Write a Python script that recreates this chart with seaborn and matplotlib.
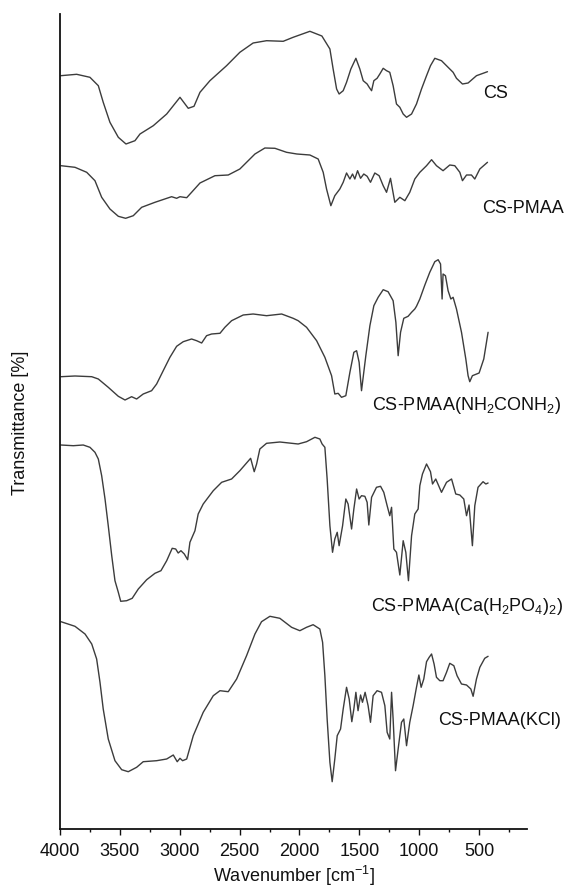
import matplotlib
matplotlib.use("Agg")
import matplotlib.pyplot as plt
from matplotlib.ticker import MultipleLocator
import seaborn as sns

# ---------------- data (wavenumber in cm^-1, transmittance in stacked arbitrary units) -------------
cs_wn = [3994, 3861, 3750, 3680, 3639, 3583, 3513, 3449, 3374, 3332, 3221, 3109, 2998, 2929, 2881,
         2831, 2748, 2609, 2498, 2387, 2275, 2136, 2053, 1913, 1813, 1746, 1719, 1690, 1669, 1635,
         1607, 1571, 1529, 1496, 1468, 1435, 1418, 1398, 1379, 1352, 1329, 1301, 1273, 1246, 1218,
         1190, 1162, 1134, 1106, 1064, 1023, 981, 939, 906, 870, 814, 759, 717, 689, 639, 592, 522, 430]
cs_t = [753.3, 754.7, 751.7, 743.3, 726.7, 706.7, 691.7, 685, 688.3, 695, 703.3, 715, 731.7, 720.7, 722.7,
        736.7, 748.3, 763.3, 776.7, 786, 788.3, 787.7, 791.7, 797.7, 793, 780, 760, 740, 735, 738.3,
        746.7, 760, 770.7, 760, 748.3, 745, 741.7, 738.3, 748.3, 750.7, 755, 760.7, 758.3, 756.7, 743.3,
        725, 721.7, 715, 711.7, 715, 725, 740, 753.3, 763.3, 770.7, 768.3, 761.7, 756.7, 750.7, 745, 746, 753.3, 757.3]

pmaa_wn = [3992, 3875, 3777, 3708, 3652, 3583, 3513, 3452, 3388, 3318, 3207, 3068, 3026, 2998, 2942,
           2901, 2831, 2706, 2595, 2498, 2372, 2289, 2205, 2108, 2022, 1913, 1844, 1802, 1774, 1738,
           1705, 1663, 1635, 1607, 1579, 1557, 1538, 1515, 1490, 1463, 1435, 1407, 1371, 1335, 1301,
           1273, 1240, 1204, 1162, 1120, 1079, 1037, 995, 939, 897, 856, 801, 745, 703, 661, 639, 605,
           564, 536, 494, 430]
pmaa_t = [663.3, 661.7, 656.7, 648.3, 631.7, 620, 612.7, 610.7, 613.3, 621.7, 626.7, 632.3, 630.7, 632.3, 631.3,
          636.7, 646, 653.3, 654, 660, 675, 681, 680.7, 676.7, 675, 674, 670, 656.7, 640, 623.3,
          633.3, 640, 646.7, 656, 650, 655, 650, 658.3, 650.7, 655, 652.7, 646.7, 656, 653.3, 643.3,
          636.7, 650.7, 626.7, 631.7, 628.3, 636.7, 650, 656.7, 663.3, 669.3, 663.3, 658.3, 664, 663.3, 656.7, 648.3, 654,
          654, 650, 660, 666.7]

urea_wn = [3992, 3875, 3735, 3680, 3597, 3513, 3457, 3402, 3360, 3305, 3235, 3193, 3138, 3082, 3026,
           2971, 2901, 2859, 2817, 2776, 2734, 2664, 2623, 2567, 2470, 2387, 2275, 2149, 2053, 2011,
           1941, 1857, 1788, 1732, 1705, 1677, 1649, 1613, 1579, 1546, 1523, 1502, 1482, 1446, 1412,
           1379, 1343, 1301, 1260, 1218, 1195, 1176, 1156, 1129, 1093, 1064, 1037, 1023, 995, 953,
           912, 870, 842, 822, 809, 801, 781, 759, 736, 717, 689, 647, 611, 592, 578, 556, 500, 461, 425]
urea_t = [452.3, 453, 452.3, 450, 441.7, 432.7, 429, 432.3, 430, 435, 438.3, 445, 458.3, 471.7, 482.7,
          487.3, 490, 488.3, 486, 493.3, 495, 495.7, 501.7, 508.3, 514, 515, 513.3, 515, 510.7, 508.3,
          501.7, 488.3, 471.7, 453.3, 435, 435.7, 431.7, 433.3, 456.7, 476.7, 478.3, 466.7, 438.3, 473.3, 503.3,
          523.3, 531.7, 539.3, 537.3, 528.3, 506.7, 473.3, 496.7, 510.7, 512.7, 516.7, 520, 522.7, 530, 544,
          556.7, 567.3, 569.3, 565, 530, 555, 553.3, 538.3, 530, 531.7, 520, 496.7, 470, 453.3, 447.3, 453.3, 456, 470, 496.7]

ca_wn = [3994, 3889, 3806, 3750, 3708, 3680, 3652, 3624, 3597, 3568, 3541, 3513, 3493, 3443, 3397,
         3346, 3276, 3207, 3157, 3109, 3063, 3034, 3013, 2990, 2962, 2934, 2915, 2873, 2846, 2804,
         2720, 2650, 2567, 2498, 2408, 2378, 2358, 2331, 2275, 2164, 2011, 1941, 1871, 1830, 1811,
         1788, 1769, 1746, 1724, 1705, 1685, 1669, 1640, 1613, 1594, 1565, 1546, 1523, 1502, 1482,
         1454, 1435, 1421, 1398, 1357, 1323, 1296, 1268, 1246, 1231, 1212, 1190, 1162, 1134, 1112,
         1090, 1064, 1037, 1009, 995, 973, 939, 906, 889, 862, 814, 772, 730, 695, 661, 628, 605,
         584, 556, 536, 509, 467, 444, 425]
ca_t = [384, 383.3, 384, 381.7, 376.7, 370, 353.3, 330, 303.3, 273.3, 248.3, 236.7, 227.7, 228.3, 230.7,
        240, 249.3, 255.7, 258.3, 268.3, 280.7, 280, 276, 278.3, 275, 269.3, 286.7, 298.3, 315, 325,
        338.3, 346.7, 350, 358.3, 370.7, 357.3, 365, 380, 385.7, 387, 385, 387.3, 391.7, 390, 385,
        381.7, 350, 303.3, 276.7, 290, 296.7, 283.3, 303.3, 330, 325, 300, 320, 340, 330, 333.3,
        332.7, 326.7, 304, 331.7, 341.7, 342.7, 336.7, 323.3, 313.3, 321.7, 280, 276.7, 254, 288.3, 276.7,
        248.3, 293.3, 315, 320, 343.3, 355, 365, 357.3, 345, 350, 336.7, 346.7, 350, 335, 334, 330, 313.3,
        324, 283.3, 323.3, 341.7, 347.3, 345, 346]

kcl_wn = [3992, 3875, 3791, 3735, 3694, 3666, 3639, 3597, 3541, 3485, 3430, 3360, 3305, 3193, 3109,
          3054, 3021, 2998, 2976, 2942, 2887, 2804, 2720, 2664, 2595, 2525, 2442, 2372, 2317, 2247,
          2164, 2066, 1997, 1941, 1886, 1830, 1807, 1788, 1769, 1746, 1727, 1705, 1685, 1657, 1635,
          1607, 1585, 1563, 1546, 1529, 1511, 1490, 1474, 1452, 1427, 1407, 1385, 1352, 1315, 1287,
          1268, 1246, 1231, 1218, 1198, 1176, 1148, 1129, 1106, 1079, 1051, 1023, 1003, 984, 962,
          939, 917, 897, 876, 856, 828, 801, 772, 745, 711, 684, 647, 605, 569, 550, 522, 494, 453, 425]
kcl_t = [207.3, 202.7, 195, 185, 170, 146.7, 120, 90, 68.3, 59.3, 57.3, 61.7, 67.3, 68.3, 70,
         74, 67.3, 70.7, 68.3, 70, 93.3, 116.7, 133.3, 138.3, 137.3, 150, 173.3, 195, 207.3, 212.7,
         210.7, 201.7, 198.3, 201.7, 204.3, 200, 186.7, 153.3, 110, 66.7, 47.3, 70, 93.3, 100, 120,
         141.7, 130, 107.3, 120, 136.7, 118.3, 134, 126.7, 136.7, 123.3, 106.7, 133.3, 138.3, 136.7, 123.3,
         96.7, 90, 136.7, 110, 58.3, 80, 106.7, 110, 83.3, 106.7, 123.3, 141.7, 154, 141.7, 150,
         167.3, 171.7, 175, 165, 151.7, 148.3, 148.3, 156.7, 165.7, 163.3, 153.3, 145, 144, 140, 132.7, 150, 161.7, 170.7, 172.7]

labels = ["CS", "CS-PMAA",
          "CS-PMAA(NH$_\\mathregular{2}$CONH$_\\mathregular{2}$)",
          "CS-PMAA(Ca(H$_\\mathregular{2}$PO$_\\mathregular{4}$)$_\\mathregular{2}$)",
          "CS-PMAA(KCl)"]
label_wn = [469, 478, 1396, 1404, 845]
label_t = [731.7, 616.7, 420, 219.3, 105]

x_ticks = [4000, 3500, 3000, 2500, 2000, 1500, 1000, 500]

# ---------------- style ----------------
sns.set_style("ticks")
plt.rcParams["font.family"] = ["Liberation Sans", "DejaVu Sans"]
plt.rcParams["mathtext.fontset"] = "custom"
plt.rcParams["mathtext.rm"] = "Liberation Sans"
plt.rcParams["mathtext.it"] = "Liberation Sans:italic"
plt.rcParams["mathtext.bf"] = "Liberation Sans:bold"

fig = plt.figure(figsize=(5.69, 8.87), dpi=100)
ax = fig.add_axes([60 / 569, 57 / 887, 467 / 569, 815 / 887])

line_color = "#3c3c3c"
for wn, t in [(cs_wn, cs_t), (pmaa_wn, pmaa_t), (urea_wn, urea_t), (ca_wn, ca_t), (kcl_wn, kcl_t)]:
    sns.lineplot(x=wn, y=t, ax=ax, color=line_color, linewidth=1.0, sort=False, estimator=None)

for txt, xw, yt in zip(labels, label_wn, label_t):
    ax.text(xw, yt, txt, fontsize=13, ha="left", va="baseline", color="#111111")

ax.set_xlim(4000, 100)
ax.set_ylim(0, 815)
ax.set_xticks(x_ticks)
ax.set_xticklabels([str(v) for v in x_ticks])
ax.xaxis.set_minor_locator(MultipleLocator(250))
ax.set_yticks([])

for s in ["top", "right"]:
    ax.spines[s].set_visible(False)
for s in ["left", "bottom"]:
    ax.spines[s].set_color("#111111")
    ax.spines[s].set_linewidth(1.3)

ax.tick_params(axis="x", which="major", direction="out", length=4.5, width=1.0,
               labelsize=13, pad=5, colors="#111111")
ax.tick_params(axis="x", which="minor", direction="out", length=2.5, width=1.0, colors="#111111")

ax.set_xlabel("Wavenumber [cm$^{\\mathregular{-1}}$]", fontsize=13, labelpad=3, color="#111111")
ax.set_ylabel("Transmittance [%]", fontsize=13, labelpad=22, color="#111111")

fig.savefig("out.png", dpi=100)
